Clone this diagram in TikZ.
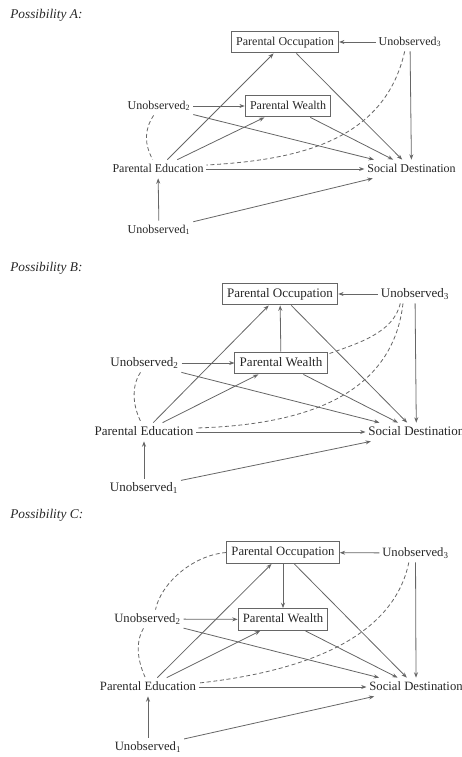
\documentclass[tikz,border=0pt]{standalone}
\usepackage{fontspec}
\setmainfont{Liberation Serif}
\usetikzlibrary{arrows.meta}
\tikzset{
  var/.style={inner sep=2pt,text height=1.6ex,text depth=.5ex,text=black!85},
  obs/.style={var,draw=black!60,line width=.7pt,inner xsep=3.6pt,inner ysep=3.4pt},
  arr/.style={-{Stealth[length=4pt,width=3pt]},draw=black!60,line width=.6pt},
  conf/.style={draw=black!60,line width=.6pt,dash pattern=on 3pt off 2pt},
  ttl/.style={anchor=west,inner sep=0pt,font=\fontsize{10}{12}\selectfont\itshape,text=black!85}
}

\begin{document}
\begin{tikzpicture}[x=0.75pt,y=-0.75pt]
\useasboundingbox (0,0) rectangle (461,757);

\begin{scope}[every node/.append style={font=\fontsize{9}{11}\selectfont}]
\node[ttl] (ttlA) at (10,15) {Possibility A:};
\node[obs] (poA) at (285,42) {Parental Occupation};
\node[var] (u3A) at (410,42) {Unobserved\textsubscript{3}};
\node[var] (u2A) at (159,106) {Unobserved\textsubscript{2}};
\node[obs] (pwA) at (288,106) {Parental Wealth};
\node[var] (peA) at (158,169) {Parental Education};
\node[var] (sdA) at (411.5,169) {Social Destination};
\node[var] (u1A) at (159,230) {Unobserved\textsubscript{1}};

\draw[arr] (u3A) -- (poA);
\draw[arr] (u3A) -- (sdA);
\draw[arr] (poA) -- (sdA);
\draw[arr] (u2A) -- (pwA);
\draw[arr] (u2A) -- (sdA);
\draw[arr] (pwA) -- (sdA);
\draw[arr] (peA) -- (poA);
\draw[arr] (peA) -- (pwA);
\draw[arr] (peA) -- (sdA);
\draw[arr] (u1A) -- (peA);
\draw[arr] (u1A) -- (sdA);
\draw[conf] ([xshift=-4pt]u2A.south) .. controls +(-10,15) and +(-8,-15) .. ([xshift=-4pt]peA.north);
\draw[conf] ([xshift=-4pt]u3A.south) .. controls +(-20,89) and +(93,-5) .. ([yshift=3pt]peA.east);
\end{scope}

\begin{scope}[every node/.append style={font=\fontsize{9.77}{11.5}\selectfont}]
\node[ttl] (ttlB) at (10,268) {Possibility B:};
\node[obs] (poB) at (280,294) {Parental Occupation};
\node[var] (u3B) at (415,294) {Unobserved\textsubscript{3}};
\node[var] (u2B) at (144.5,363) {Unobserved\textsubscript{2}};
\node[obs] (pwB) at (281,363) {Parental Wealth};
\node[var] (peB) at (144,432) {Parental Education};
\node[var,anchor=west] (sdB) at (365.5,432) {Social Destination};
\node[var] (u1B) at (144,488) {Unobserved\textsubscript{1}};

\draw[arr] (u3B) -- (poB);
\draw[arr] (u3B) -- (sdB);
\draw[arr] (poB) -- (sdB);
\draw[arr] (pwB) -- (poB);
\draw[arr] (u2B) -- (pwB);
\draw[arr] (u2B) -- (sdB);
\draw[arr] (pwB) -- (sdB);
\draw[arr] (peB) -- (poB);
\draw[arr] (peB) -- (pwB);
\draw[arr] (peB) -- (sdB);
\draw[arr] (u1B) -- (peB);
\draw[arr] (u1B) -- (sdB);
\draw[conf] ([xshift=-3pt]u2B.south) .. controls +(-10,15) and +(-8,-15) .. ([xshift=-2pt]peB.north);
\draw[conf] ([xshift=-11pt]u3B.south) .. controls +(-7,30) and +(30,-11) .. ([yshift=-2pt]pwB.north east);
\draw[conf] ([xshift=-9pt]u3B.south) .. controls +(-11,95) and +(103,-3) .. ([yshift=3pt]peB.east);
\end{scope}

\begin{scope}[every node/.append style={font=\fontsize{9.5}{11.5}\selectfont}]
\node[ttl] (ttlC) at (10,515) {Possibility C:};
\node[obs] (poC) at (283,552.5) {Parental Occupation};
\node[var] (u3C) at (415.5,553) {Unobserved\textsubscript{3}};
\node[var] (u2C) at (147.5,619) {Unobserved\textsubscript{2}};
\node[obs] (pwC) at (283,619.5) {Parental Wealth};
\node[var] (peC) at (148,687) {Parental Education};
\node[var,anchor=west] (sdC) at (366.5,687) {Social Destination};
\node[var] (u1C) at (148,747) {Unobserved\textsubscript{1}};

\draw[arr] (u3C) -- (poC);
\draw[arr] (u3C) -- (sdC);
\draw[arr] (poC) -- (sdC);
\draw[arr] (poC) -- (pwC);
\draw[arr] (u2C) -- (pwC);
\draw[arr] (u2C) -- (sdC);
\draw[arr] (pwC) -- (sdC);
\draw[arr] (peC) -- (poC);
\draw[arr] (peC) -- (pwC);
\draw[arr] (peC) -- (sdC);
\draw[arr] (u1C) -- (peC);
\draw[arr] (u1C) -- (sdC);
\draw[conf] (poC.west) .. controls +(-35,3) and +(5,-25) .. ([xshift=6pt]u2C.north);
\draw[conf] ([xshift=-3pt]u2C.south) .. controls +(-9,15) and +(-7,-15) .. ([xshift=-2pt]peC.north);
\draw[conf] ([xshift=-5pt]u3C.south) .. controls +(-16,78) and +(100,-11) .. ([yshift=3pt]peC.east);
\end{scope}
\end{tikzpicture}
\end{document}
